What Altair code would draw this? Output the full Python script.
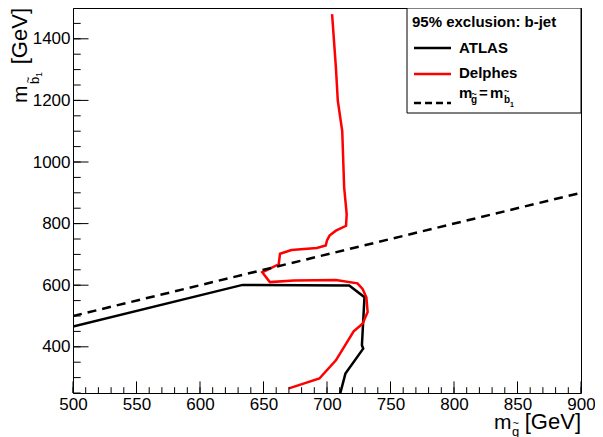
import altair as alt
import pandas as pd

# ---- data ----
atlas_x = [500, 633.5, 717.5, 729.5, 727.5, 728.5, 714.5, 710.5]
atlas_y = [466, 601, 599, 561, 405, 394, 313, 250]

delphes_x = [670, 694, 707, 721, 728, 732, 731, 728, 724, 707, 674, 655, 649,
             662, 663, 672, 692, 699, 700, 702, 707, 715, 715.5, 713.5, 712, 708.5, 707, 704]
delphes_y = [265, 297, 356, 450, 475, 513, 561, 588, 606, 617, 615, 610, 642,
             668, 702, 714, 721, 729, 745, 761, 777, 793, 831, 918, 1100, 1199, 1307, 1480]

diag_x = [500, 900]
diag_y = [500, 900]

x_major = [500, 550, 600, 650, 700, 750, 800, 850, 900]
x_minor = list(range(500, 901, 10))
y_major = [400, 600, 800, 1000, 1200, 1400]
y_minor = list(range(250, 1501, 50))

W, H = 508, 385
FONT = "Liberation Sans"

xs = alt.Scale(domain=[500, 900], nice=False, zero=False)
ys = alt.Scale(domain=[250, 1500], nice=False, zero=False)
xa = alt.Axis(values=x_major, ticks=False, domain=False, grid=False,
              labelFontSize=17, labelFont=FONT, labelColor="black",
              labelPadding=3, title=None, format="d",
              labelFlush=False, labelOverlap=False, labelBound=False)
ya = alt.Axis(values=y_major, ticks=False, domain=False, grid=False,
              labelFontSize=17, labelFont=FONT, labelColor="black",
              labelPadding=3, title=None, format="d",
              labelFlush=False, labelOverlap=False, labelBound=False)


def line(xv, yv, color, dash=None):
    df = pd.DataFrame({"x": xv, "y": yv, "i": range(len(xv))})
    kw = dict(color=color, strokeWidth=2.5, clip=True)
    if dash:
        kw["strokeDash"] = dash
    return alt.Chart(df).mark_line(**kw).encode(
        x=alt.X("x:Q", scale=xs, axis=xa),
        y=alt.Y("y:Q", scale=ys, axis=ya),
        order=alt.Order("i:Q"),
    )


def xticks(vals, length):
    return alt.Chart(pd.DataFrame({"x": vals})).mark_rule(color="black", strokeWidth=1).encode(
        x=alt.X("x:Q", scale=xs, axis=xa),
        y=alt.value(H), y2=alt.value(H - length))


def yticks(vals, length):
    return alt.Chart(pd.DataFrame({"y": vals})).mark_rule(color="black", strokeWidth=1).encode(
        y=alt.Y("y:Q", scale=ys, axis=ya),
        x=alt.value(0), x2=alt.value(length))


def txt(s, x, y, size, bold=False, align="left", angle=0):
    return alt.Chart(pd.DataFrame({"t": [s]})).mark_text(
        align=align, baseline="alphabetic", fontSize=size, font=FONT,
        fontWeight="bold" if bold else "normal", angle=angle, color="black"
    ).encode(text="t:N", x=alt.value(x), y=alt.value(y))


def seg(x1, x2, y, color, dash=None):
    kw = dict(color=color, strokeWidth=2.5)
    if dash:
        kw["strokeDash"] = dash
    return alt.Chart(pd.DataFrame({"a": [0]})).mark_rule(**kw).encode(
        x=alt.value(x1), x2=alt.value(x2), y=alt.value(y))


L = W - 174  # legend left edge
box = alt.Chart(pd.DataFrame({"a": [0]})).mark_rect(
    fill="white", stroke="black", strokeWidth=1).encode(
    x=alt.value(L), x2=alt.value(W), y=alt.value(0), y2=alt.value(105))

layers = [
    line(atlas_x, atlas_y, "black"),
    line(delphes_x, delphes_y, "#ff0000"),
    line(diag_x, diag_y, "black", dash=[9, 6]),
    xticks(x_minor, 5.8), xticks(x_major, 11.6),
    yticks(y_minor, 7.7), yticks(y_major, 15.5),
    # x-axis title
    txt("m", W - 87, 421, 21),
    txt("g", W - 69, 428, 13),
    txt("~", W - 68.5, 419, 11),
    txt("[GeV]", W, 421, 22, align="right"),
    # y-axis title (rotated)
    txt("m", -46, 95, 21, angle=270),
    txt("b", -34, 76, 13, angle=270),
    txt("~", -41, 72, 11, angle=270, align="center"),
    txt("1", -31, 69, 9, angle=270),
    txt("[GeV]", -46, 0, 22, angle=270, align="right"),
    # legend
    box,
    txt("95% exclusion: b-jet", L + 5, 19, 15, bold=True),
    seg(L + 7, L + 44, 40, "black"),
    txt("ATLAS", L + 52, 45, 15, bold=True),
    seg(L + 7, L + 44, 66, "#ff0000"),
    txt("Delphes", L + 52, 70, 15, bold=True),
    seg(L + 7, L + 44, 95, "black", dash=[7, 4]),
    txt("m", L + 52, 90, 15, bold=True),
    txt("g", L + 64, 95, 10, bold=True),
    txt("~", L + 64.5, 89, 9, bold=True),
    txt("=", L + 72, 90, 15, bold=True),
    txt("m", L + 83, 90, 15, bold=True),
    txt("b", L + 97, 95, 10, bold=True),
    txt("~", L + 97, 86, 9, bold=True),
    txt("1", L + 103, 99, 7, bold=True),
]

chart = alt.layer(*layers).properties(
    width=W, height=H,
    autosize="none",
    padding={"left": 65, "top": 0, "right": 14, "bottom": 44},
).configure_view(stroke="black", strokeWidth=1)

chart.save("out.html", embed_options={"renderer": "svg", "actions": False})
